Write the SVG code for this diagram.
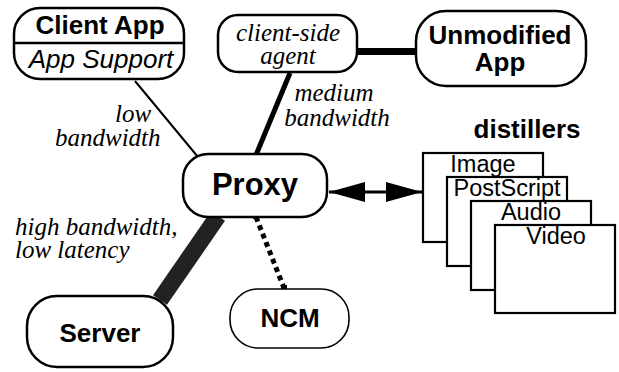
<svg xmlns="http://www.w3.org/2000/svg" width="619" height="372" viewBox="0 0 619 372">
<defs>
<style>
.node{fill:#fff;stroke:#000;stroke-width:2.5}
.dist{fill:#fff;stroke:#000;stroke-width:2.2}
.b{font-family:"Liberation Sans",Arial,sans-serif;font-weight:bold;text-anchor:middle;fill:#000}
.s{font-family:"Liberation Sans",Arial,sans-serif;text-anchor:middle;fill:#000}
.si{font-family:"Liberation Sans",Arial,sans-serif;font-style:italic;text-anchor:middle;fill:#000}
.t{font-family:"Liberation Serif","Times New Roman",serif;font-style:italic;font-size:25px;fill:#000}
</style>
<marker id="ah" viewBox="0 0 36 20" refX="36" refY="10" markerWidth="36" markerHeight="20" markerUnits="userSpaceOnUse" orient="auto-start-reverse">
<polygon points="0,0 36,10 0,20" fill="#000"/>
</marker>
</defs>
<g id="connectors">
<line x1="135" y1="81" x2="198" y2="157" stroke="#000" stroke-width="2"/>
<line x1="290" y1="73" x2="256" y2="155" stroke="#000" stroke-width="5"/>
<line x1="356" y1="51.5" x2="417" y2="51.5" stroke="#000" stroke-width="7"/>
<line x1="218" y1="216" x2="160" y2="300" stroke="#222" stroke-width="17"/>
<line x1="256" y1="217" x2="284" y2="288" stroke="#000" stroke-width="5" stroke-dasharray="5 4"/>
<rect x="253" y="214" width="5" height="5" fill="#000"/>
<rect x="281" y="285" width="6" height="6" fill="#000"/>
<line x1="329" y1="192" x2="422" y2="192" stroke="#000" stroke-width="3" marker-start="url(#ah)" marker-end="url(#ah)"/>
</g>
<g id="client-app">
<rect class="node" x="14" y="8" width="170" height="71" rx="26" ry="26"/>
<line x1="13" y1="43" x2="185" y2="43" stroke="#000" stroke-width="2.5"/>
<text class="b" x="100" y="34" font-size="26">Client App</text>
<text class="si" x="101" y="68" font-size="26">App Support</text>
</g>
<g id="client-side-agent">
<rect class="node" x="218" y="15" width="139" height="57" rx="20" ry="20"/>
<text class="t" x="288" y="41" text-anchor="middle">client-side</text>
<text class="t" x="288" y="64" text-anchor="middle">agent</text>
</g>
<g id="unmodified-app">
<rect class="node" x="416" y="11" width="170" height="75" rx="30" ry="30"/>
<text class="b" x="500" y="44" font-size="26">Unmodified</text>
<text class="b" x="500" y="71" font-size="26">App</text>
</g>
<g id="proxy">
<rect class="node" x="183" y="154" width="144" height="63" rx="25" ry="25"/>
<text class="b" x="255" y="195" font-size="31">Proxy</text>
</g>
<g id="server">
<rect class="node" x="27" y="296" width="146" height="71" rx="30" ry="30"/>
<text class="b" x="100" y="342" font-size="26">Server</text>
</g>
<g id="ncm">
<rect x="230" y="289" width="119" height="59" rx="28" ry="28" fill="#fff" stroke="#000" stroke-width="1.6"/>
<text class="b" x="290" y="327" font-size="26">NCM</text>
</g>
<g id="distillers">
<text class="b" x="527" y="138" font-size="26">distillers</text>
<rect class="dist" x="423" y="153" width="120" height="89"/>
<text class="s" x="483" y="172" font-size="23.5">Image</text>
<rect class="dist" x="447" y="177" width="120" height="89"/>
<text class="s" x="507" y="196" font-size="23.5">PostScript</text>
<rect class="dist" x="471" y="201" width="120" height="89"/>
<text class="s" x="531" y="220" font-size="23.5">Audio</text>
<rect class="dist" x="495" y="225" width="120" height="88"/>
<text class="s" x="556" y="244" font-size="23.5">Video</text>
</g>
<g id="labels">
<text class="t" x="115" y="122">low</text>
<text class="t" x="55" y="146">bandwidth</text>
<text class="t" x="334" y="101" text-anchor="middle">medium</text>
<text class="t" x="337" y="126" text-anchor="middle">bandwidth</text>
<text class="t" x="15" y="235">high bandwidth,</text>
<text class="t" x="15" y="258">low latency</text>
</g>
</svg>
